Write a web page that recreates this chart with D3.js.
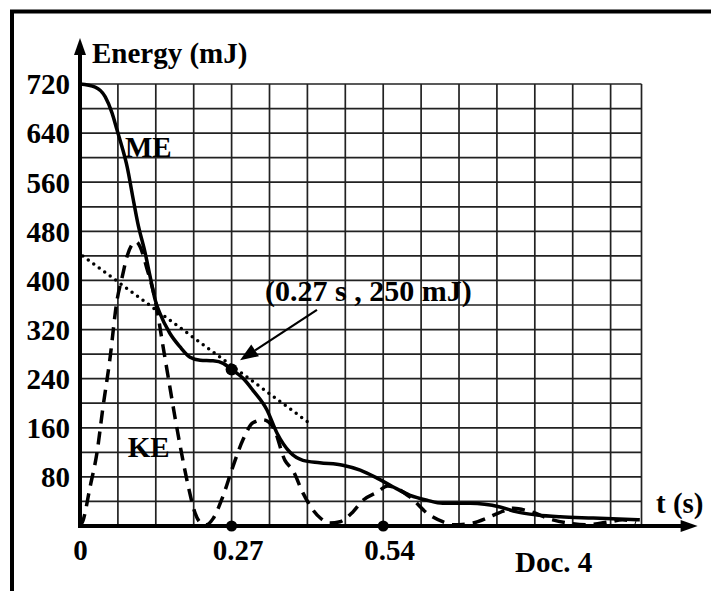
<!DOCTYPE html>
<html lang="en">
<head>
<meta charset="utf-8">
<title>Doc. 4 - Energy vs time</title>
<script src="https://cdnjs.cloudflare.com/ajax/libs/d3/7.8.5/d3.min.js"></script>
<style>
  body { margin: 0; background: #fff; }
  svg { display: block; }
  text { font-family: "Liberation Serif", "Times New Roman", serif; font-weight: bold; fill: #000; }
</style>
</head>
<body>
<div id="chart"></div>
<script>

// data (t in s, energy in mJ)
const meTime   = [0, 0.027, 0.045, 0.057, 0.066, 0.075, 0.084, 0.094, 0.103, 0.116, 0.125, 0.134, 0.142, 0.160, 0.178, 0.196, 0.214, 0.237, 0.255, 0.270, 0.290, 0.308, 0.333, 0.351, 0.374, 0.397, 0.427, 0.468, 0.499, 0.529, 0.557, 0.588, 0.618, 0.646, 0.695, 0.748, 0.778, 0.814, 0.855, 0.914, 0.997];
const meEnergy = [720, 715, 699, 673, 645, 617, 585, 536, 493, 445, 406, 368, 347, 314, 292, 275, 270, 269, 265, 255, 241, 221, 189, 151, 120, 107, 103, 99, 91, 78, 64, 50, 42, 37, 37, 31, 23, 18, 15, 13, 10];

const keTime   = [0, 0.005, 0.018, 0.030, 0.041, 0.053, 0.066, 0.075, 0.084, 0.094, 0.100, 0.107, 0.119, 0.134, 0.148, 0.157, 0.169, 0.181, 0.193, 0.205, 0.215, 0.225, 0.237, 0.254, 0.272, 0.290, 0.308, 0.326, 0.344, 0.365, 0.379, 0.397, 0.415, 0.428, 0.445, 0.463, 0.486, 0.504, 0.529, 0.548, 0.588, 0.618, 0.646, 0.665, 0.700, 0.725, 0.745, 0.772, 0.800, 0.842, 0.867, 0.900, 0.944, 0.966, 0.990];
const keEnergy = [0, 8, 64, 118, 194, 270, 368, 405, 440, 460, 463, 455, 420, 368, 292, 243, 178, 118, 64, 21, 5, 2, 12, 47, 96, 140, 168, 173, 161, 107, 91, 54, 26, 13, 5, 7, 23, 42, 55, 65, 47, 21, 7, 2, 5, 13, 21, 29, 24, 10, 5, 2, 7, 10, 5];

// tangent line (dotted)
const tangentTime   = [0.005, 0.405];
const tangentEnergy = [440, 170];

// marked point and arrow
const pointTime = 0.27;
const pointEnergy = 255;
const arrowTime   = [0.422, 0.285];
const arrowEnergy = [352, 270];

// ticks
const yTicks = [80, 160, 240, 320, 400, 480, 560, 640, 720];
const xTicks = [0, 0.27, 0.54];
const xTickLabels = ["0", "0.27", "0.54"];
const gridStepTime = 0.0675;
const gridStepEnergy = 40;

// define svg
const width = 711;
const height = 591;
const fontSize = 29;

const svg = d3.select("#chart")
  .append("svg")
  .attr("width", width)
  .attr("height", height);

// frame (cropped on right/bottom)
svg.append("rect")
  .attr("x", 12).attr("y", 11.5)
  .attr("width", 800).attr("height", 700)
  .attr("fill", "none")
  .attr("stroke", "#000")
  .attr("stroke-width", 4);

// scales
const x = d3.scaleLinear().domain([0, 1]).range([80, 641.5]);
const y = d3.scaleLinear().domain([0, 720]).range([526, 84]);

// grid
const vLines = d3.range(1, 15).map(k => k * gridStepTime).concat([1]);
const hLines = d3.range(gridStepEnergy, 721, gridStepEnergy);

const grid = svg.append("g").attr("class", "grid")
  .attr("stroke", "#222")
  .attr("stroke-width", 1.7);

grid.selectAll(".v")
  .data(vLines)
  .enter()
  .append("line")
    .attr("x1", d => x(d)).attr("x2", d => x(d))
    .attr("y1", y(0)).attr("y2", y(720));

grid.selectAll(".h")
  .data(hLines)
  .enter()
  .append("line")
    .attr("x1", x(0)).attr("x2", x(1))
    .attr("y1", d => y(d)).attr("y2", d => y(d));

// curves
const line = d3.line()
  .x(d => x(d[0]))
  .y(d => y(d[1]))
  .curve(d3.curveMonotoneX);

const meData = meTime.map((t, i) => [t, meEnergy[i]]);
const keData = keTime.map((t, i) => [t, keEnergy[i]]);
const tangentData = tangentTime.map((t, i) => [t, tangentEnergy[i]]);

svg.append("path")
  .datum(keData)
  .attr("d", line)
  .attr("fill", "none")
  .attr("stroke", "#000")
  .attr("stroke-width", 3.5)
  .attr("stroke-dasharray", "13 8");

svg.append("path")
  .datum(tangentData)
  .attr("d", d3.line().x(d => x(d[0])).y(d => y(d[1])))
  .attr("fill", "none")
  .attr("stroke", "#000")
  .attr("stroke-width", 3.5)
  .attr("stroke-linecap", "round")
  .attr("stroke-dasharray", "0 6.8");

svg.append("path")
  .datum(meData)
  .attr("d", line)
  .attr("fill", "none")
  .attr("stroke", "#000")
  .attr("stroke-width", 3.5);

// axes lines with arrows
const tArrow = 1.1;
const eArrow = 795;

svg.append("line")
  .attr("x1", x(0)).attr("x2", x(0))
  .attr("y1", y(0) + 2).attr("y2", y(eArrow) + 12)
  .attr("stroke", "#000").attr("stroke-width", 4);
svg.append("path")
  .attr("d", `M${x(0)},${y(eArrow)} L${x(0) - 6},${y(eArrow) + 17} L${x(0) + 6},${y(eArrow) + 17} Z`)
  .attr("fill", "#000");

svg.append("line")
  .attr("x1", x(0) - 2).attr("x2", x(tArrow) - 12)
  .attr("y1", y(0)).attr("y2", y(0))
  .attr("stroke", "#000").attr("stroke-width", 4);
svg.append("path")
  .attr("d", `M${x(tArrow)},${y(0)} L${x(tArrow) - 17},${y(0) - 6} L${x(tArrow) - 17},${y(0) + 6} Z`)
  .attr("fill", "#000");

// y tick labels
const yAxis = d3.axisLeft(y)
  .tickValues(yTicks)
  .tickSize(0)
  .tickPadding(10);

svg.append("g")
  .attr("transform", `translate(${x(0)},0)`)
  .call(yAxis)
  .call(g => g.select(".domain").remove())
  .attr("font-family", null)
  .selectAll("text")
    .attr("font-size", fontSize)
    .attr("dy", "0.34em");

// x tick labels
const xAxis = d3.axisBottom(x)
  .tickValues(xTicks)
  .tickFormat((d, i) => xTickLabels[i])
  .tickSize(0)
  .tickPadding(13);

svg.append("g")
  .attr("transform", `translate(0,${y(0)})`)
  .call(xAxis)
  .call(g => g.select(".domain").remove())
  .attr("font-family", null)
  .selectAll("text")
    .attr("font-size", fontSize)
    .attr("dx", (d, i) => i === 0 ? 0 : 6);

// dots on the t axis and on the curve
svg.selectAll(".axis-dot")
  .data(xTicks.filter(d => d > 0))
  .enter()
  .append("circle")
    .attr("cx", d => x(d))
    .attr("cy", y(0))
    .attr("r", 5.5)
    .attr("fill", "#000");

svg.append("circle")
  .attr("cx", x(pointTime))
  .attr("cy", y(pointEnergy))
  .attr("r", 6)
  .attr("fill", "#000");

// annotation arrow
const ax1 = x(arrowTime[0]), ay1 = y(arrowEnergy[0]);
const ax2 = x(arrowTime[1]), ay2 = y(arrowEnergy[1]);
const ang = Math.atan2(ay2 - ay1, ax2 - ax1);
const headLen = 18, headW = 7;
const bx = ax2 - headLen * Math.cos(ang), by = ay2 - headLen * Math.sin(ang);

svg.append("line")
  .attr("x1", ax1).attr("y1", ay1)
  .attr("x2", bx).attr("y2", by)
  .attr("stroke", "#000").attr("stroke-width", 2.2);
svg.append("path")
  .attr("d", `M${ax2},${ay2} L${bx + headW * Math.sin(ang)},${by - headW * Math.cos(ang)} L${bx - headW * Math.sin(ang)},${by + headW * Math.cos(ang)} Z`)
  .attr("fill", "#000");

// texts
svg.append("text").attr("x", 92).attr("y", 63).attr("font-size", fontSize).text("Energy (mJ)");
svg.append("text").attr("x", 656).attr("y", 513).attr("font-size", fontSize).text("t (s)");
svg.append("text").attr("x", 515).attr("y", 572).attr("font-size", fontSize).text("Doc. 4");
svg.append("text").attr("x", x(0.080)).attr("y", y(601)).attr("font-size", fontSize).text("ME");
svg.append("text").attr("x", x(0.085)).attr("y", y(112)).attr("font-size", fontSize).text("KE");
svg.append("text").attr("x", 265).attr("y", 301).attr("font-size", 30).text("(0.27 s , 250 mJ)");

</script>
</body>
</html>
